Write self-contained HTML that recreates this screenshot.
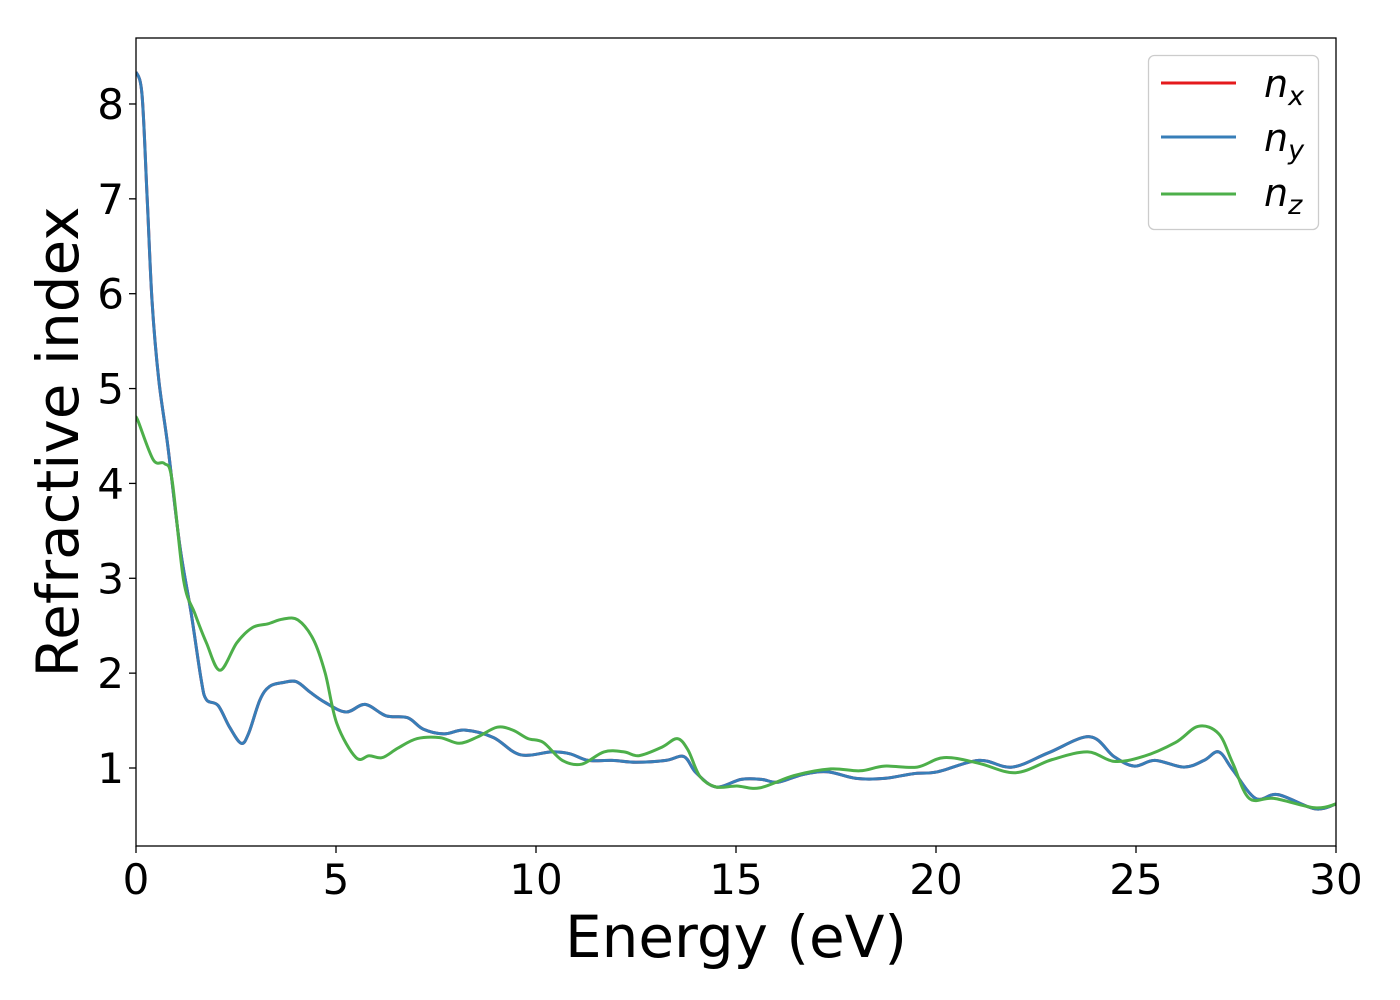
<!DOCTYPE html>
<html><head><meta charset="utf-8"><style>
html,body{margin:0;padding:0;background:#fff;}
svg{display:block;font-family:"DejaVu Sans","Liberation Sans",sans-serif;}
</style></head><body>
<svg id="chart" width="1400" height="1000" viewBox="0 0 1400 1000" xmlns="http://www.w3.org/2000/svg">
<rect x="0" y="0" width="1400" height="1000" fill="#fff"/>
<g id="series"></g>
<rect x="136" y="38" width="1200" height="808" fill="none" stroke="#000" stroke-width="1.3"/>
<g id="xticks"></g>
<g id="yticks"></g>
<text x="736" y="957" font-size="58" text-anchor="middle">Energy (eV)</text>
<text transform="translate(78,442) rotate(-90)" font-size="58" text-anchor="middle">Refractive index</text>
<g>
<rect x="1148.5" y="55.5" width="170" height="174" rx="6" fill="#fff" fill-opacity="0.8" stroke="#ccc" stroke-width="1.3"/>
<g>
<line x1="1161" y1="83" x2="1236" y2="83" stroke="#e41a1c" stroke-width="3"/>
<text x="1264" y="97" font-size="38" font-style="italic">n<tspan font-size="27" dy="8">x</tspan></text></g>
<g>
<line x1="1161" y1="137" x2="1236" y2="137" stroke="#377eb8" stroke-width="3"/>
<text x="1264" y="151" font-size="38" font-style="italic">n<tspan font-size="27" dy="8">y</tspan></text></g>
<g>
<line x1="1161" y1="194" x2="1236" y2="194" stroke="#4daf4a" stroke-width="3"/>
<text x="1264" y="206" font-size="38" font-style="italic">n<tspan font-size="27" dy="8">z</tspan></text></g>
</g>
</svg>
<script>
const xTickValues = [0,5,10,15,20,25,30];
const yTickValues = [1,2,3,4,5,6,7,8];
const energyXY = [0,0.15,0.28,0.4,0.57,0.8,1.1,1.38,1.63,1.76,2.05,2.34,2.63,2.82,3.1,3.34,3.67,4.01,4.35,4.73,5.25,5.73,6.25,6.79,7.18,7.7,8.23,8.94,9.6,10.4,10.85,11.3,11.9,12.5,13.25,13.7,14.0,14.5,15.13,15.64,16.05,16.66,17.28,18.0,18.71,19.43,20.04,21.07,21.9,22.81,23.84,24.45,24.96,25.47,26.2,26.7,27.07,27.42,27.99,28.55,29.47,30];
const nxValues = [8.34,8.1,7.0,5.93,5.09,4.38,3.33,2.63,1.93,1.72,1.66,1.43,1.26,1.37,1.72,1.86,1.90,1.91,1.80,1.69,1.59,1.67,1.55,1.53,1.41,1.36,1.40,1.32,1.14,1.17,1.15,1.08,1.08,1.06,1.08,1.12,0.95,0.80,0.88,0.88,0.85,0.93,0.96,0.89,0.89,0.94,0.96,1.08,1.01,1.16,1.33,1.12,1.02,1.08,1.01,1.08,1.17,0.98,0.68,0.72,0.57,0.62];
const nyValues = nxValues.slice();
const energyZ = [0,0.04,0.43,0.71,0.9,1.19,1.47,1.76,2.1,2.52,2.91,3.3,3.67,4.05,4.44,4.73,5.02,5.5,5.83,6.16,6.55,7.03,7.6,8.08,8.55,9.03,9.42,9.8,10.18,10.66,11.14,11.7,12.2,12.57,13.15,13.53,13.8,14.1,14.5,15.02,15.59,16.45,17.37,18.1,18.71,19.53,20.2,21.07,21.99,22.91,23.79,24.45,25.17,25.99,26.56,27.07,27.42,27.83,28.45,29.47,30];
const nzValues = [4.67,4.67,4.25,4.21,4.04,2.98,2.63,2.32,2.03,2.32,2.48,2.52,2.57,2.56,2.35,2.0,1.47,1.11,1.13,1.11,1.21,1.31,1.32,1.26,1.33,1.43,1.40,1.31,1.27,1.08,1.04,1.17,1.17,1.13,1.22,1.31,1.19,0.91,0.80,0.81,0.79,0.92,0.99,0.97,1.02,1.01,1.11,1.05,0.95,1.09,1.17,1.07,1.12,1.27,1.44,1.36,1.05,0.68,0.68,0.58,0.62];

const NS='http://www.w3.org/2000/svg';
const X0=136,X1=1336,Y0=38,Y1=846,XMIN=0,XMAX=30;
function xs(v){return X0+(v-XMIN)/(XMAX-XMIN)*(X1-X0);}
function ys(v){return 768-(v-1)*94.86;}
function pathFor(xv,yv){
  const p=xv.map((x,i)=>[xs(x),ys(yv[i])]);
  let d='M'+p[0][0].toFixed(1)+','+p[0][1].toFixed(1);
  for(let i=0;i<p.length-1;i++){
    const a=p[Math.max(0,i-1)],b=p[i],c=p[i+1],e=p[Math.min(p.length-1,i+2)];
    const c1=[b[0]+(c[0]-a[0])/6,b[1]+(c[1]-a[1])/6];
    const c2=[c[0]-(e[0]-b[0])/6,c[1]-(e[1]-b[1])/6];
    d+=' C'+c1[0].toFixed(1)+','+c1[1].toFixed(1)+' '+c2[0].toFixed(1)+','+c2[1].toFixed(1)+' '+c[0].toFixed(1)+','+c[1].toFixed(1);
  }
  return d;
}
const sg=document.getElementById('series');
const clip=document.createElementNS(NS,'clipPath');clip.setAttribute('id','pc');
const cr=document.createElementNS(NS,'rect');cr.setAttribute('x',X0);cr.setAttribute('y',Y0);cr.setAttribute('width',X1-X0);cr.setAttribute('height',Y1-Y0);
clip.appendChild(cr);sg.appendChild(clip);
function addLine(xv,yv,color,name){
  const p=document.createElementNS(NS,'path');
  p.setAttribute('d',pathFor(xv,yv));
  p.setAttribute('fill','none');p.setAttribute('stroke',color);p.setAttribute('stroke-width','3');
  p.setAttribute('stroke-linejoin','round');p.setAttribute('clip-path','url(#pc)');
  
  
  sg.appendChild(p);
}
addLine(energyXY,nxValues,'#e41a1c','line-nx');
addLine(energyXY,nyValues,'#377eb8','line-ny');
addLine(energyZ,nzValues,'#4daf4a','line-nz');

const xg=document.getElementById('xticks');
xTickValues.forEach(v=>{
  const l=document.createElementNS(NS,'line');
  l.setAttribute('x1',xs(v));l.setAttribute('x2',xs(v));l.setAttribute('y1',846);l.setAttribute('y2',853);l.setAttribute('stroke','#000');l.setAttribute('stroke-width','1.3');
  
  
  xg.appendChild(l);
  const t=document.createElementNS(NS,'text');
  t.setAttribute('x',xs(v));t.setAttribute('y',894);t.setAttribute('font-size','42');t.setAttribute('text-anchor','middle');
  t.textContent=v;
  
  
  xg.appendChild(t);
});
const yg=document.getElementById('yticks');
yTickValues.forEach(v=>{
  const l=document.createElementNS(NS,'line');
  l.setAttribute('x1',129);l.setAttribute('x2',136);l.setAttribute('y1',ys(v));l.setAttribute('y2',ys(v));l.setAttribute('stroke','#000');l.setAttribute('stroke-width','1.3');
  
  
  yg.appendChild(l);
  const t=document.createElementNS(NS,'text');
  t.setAttribute('x',124);t.setAttribute('y',ys(v)+15);t.setAttribute('font-size','42');t.setAttribute('text-anchor','end');
  t.textContent=v;
  
  
  yg.appendChild(t);
});
</script>
</body></html>
